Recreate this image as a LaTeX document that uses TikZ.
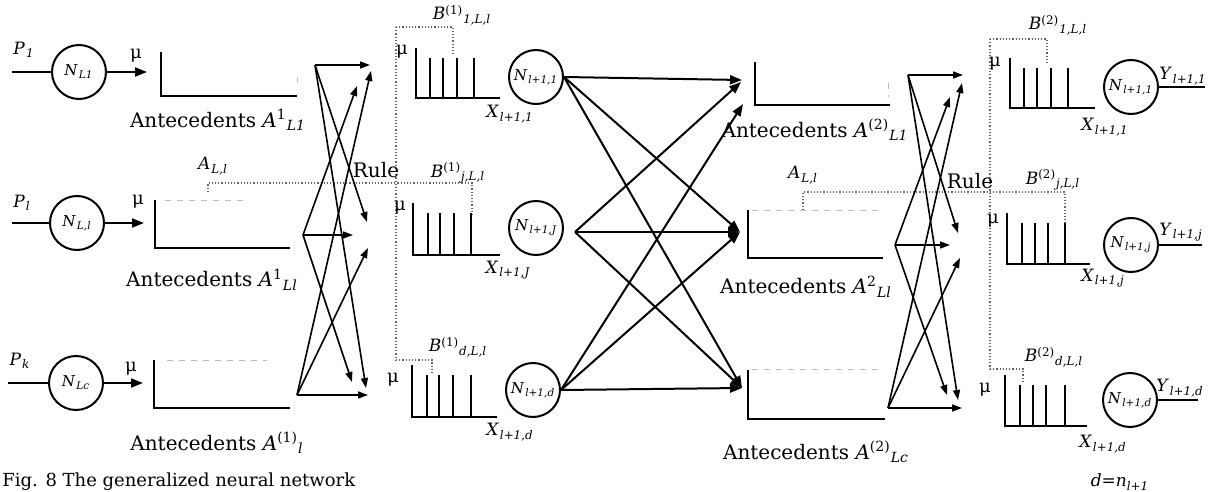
\documentclass[tikz,border=0pt]{standalone}
\usepackage{fontspec}
\setmainfont{DejaVu Serif}
\usetikzlibrary{arrows.meta}
\newcommand{\lb}[3]{\textit{#1}\textsuperscript{#2}\textsubscript{\itshape #3}}
\begin{document}
\begin{tikzpicture}[x=0.5pt,y=-0.5pt,
  neuron/.style={circle,draw,line width=1pt,minimum size=27pt,inner sep=0pt,font=\fontsize{7.5}{8}\selectfont},
  ln/.style={line width=1pt},
  arr/.style={line width=1pt,-{Triangle[length=6pt,width=4.5pt]}},
  xarr/.style={line width=0.8pt,-{Triangle[length=5pt,width=3.5pt]}},
  dots/.style={densely dotted,line width=0.6pt,black!60},
  faint/.style={dashed,line width=0.5pt,black!25},
  txt/.style={inner sep=0pt,font=\fontsize{10}{12}\selectfont},
  sym/.style={inner sep=0pt,font=\fontsize{8.5}{10}\selectfont},
  mu/.style={inner sep=0pt,font=\fontsize{9}{10}\selectfont}]
\useasboundingbox (0,0) rectangle (1215,492);

% ---------- input neurons ----------
\node[neuron] (n1) at (79,72) {\lb{N}{}{L1}};
\node[neuron] (n2) at (77,223) {\lb{N}{}{L,l}};
\node[neuron] (n3) at (76,383) {\lb{N}{}{Lc}};
\coordinate (p1) at (12,72);
\coordinate (p2) at (12,223);
\coordinate (p3) at (8,383);
\draw[ln] (p1) -- (n1);
\draw[ln] (p2) -- (n2);
\draw[ln] (p3) -- (n3);
\node[sym] (lp1) at (24,50) {\lb{P}{}{1}};
\node[sym] (lp2) at (22,203) {\lb{P}{}{l}};
\node[sym] (lp3) at (20,361) {\lb{P}{}{k}};
\coordinate (q1) at (147,72);
\coordinate (q2) at (144,223);
\coordinate (q3) at (143,383);
\draw[arr] (n1) -- (q1);
\draw[arr] (n2) -- (q2);
\draw[arr] (n3) -- (q3);
\node[mu] (mu1) at (136,56) {μ};
\node[mu] (mu2) at (138,202) {μ};
\node[mu] (mu3) at (131,369) {μ};

% ---------- antecedent boxes layer 1 ----------
\draw[ln] (161,52) -- (161,96) -- (297,96);
\draw[faint] (297,77) -- (297,84);
\draw[ln] (155,200) -- (155,248) -- (290,248);
\draw[faint] (165,200) -- (245,200);
\draw[ln] (154,360) -- (154,408) -- (290,408);
\draw[faint] (167,360) -- (267,360);
\node[txt] (ant1) at (218,120) {Antecedents \lb{A}{1}{L1}};
\node[txt] (ant2) at (212,280) {Antecedents \lb{A}{1}{Ll}};
\node[txt] (ant3) at (217,443) {Antecedents \lb{A}{(1)}{l}};
\node[sym] (all1) at (213,166) {\lb{A}{}{L,l}};

% ---------- dotted rule brackets layer 1 ----------
\draw[dots] (208,192) -- (208,183) -- (472,183) -- (472,217);
\draw[dots] (396,27) -- (396,360);
\draw[dots] (396,27) -- (453,27) -- (453,55);
\draw[dots] (396,360) -- (432,360) -- (432,373);
\node[txt] (rule1) at (376,170) {Rule};

% ---------- crossing arrows layer 1 ----------
\coordinate (ua) at (315,65);
\coordinate (ub) at (303,235);
\coordinate (uc) at (297,395);
\coordinate (ta1) at (370,65);
\coordinate (tb1) at (357,86);
\coordinate (tc1) at (371,71);
\coordinate (ta2) at (367,222);
\coordinate (tb2) at (353,235);
\coordinate (tc2) at (368,248);
\coordinate (ta3) at (366,388);
\coordinate (tb3) at (352,382);
\coordinate (tc3) at (368,395);
\draw[xarr] (ua) -- (ta1);
\draw[xarr] (ua) -- (ta2);
\draw[xarr] (ua) -- (ta3);
\draw[xarr] (ub) -- (tb1);
\draw[xarr] (ub) -- (tb2);
\draw[xarr] (ub) -- (tb3);
\draw[xarr] (uc) -- (tc1);
\draw[xarr] (uc) -- (tc2);
\draw[xarr] (uc) -- (tc3);

% ---------- consequents layer 1 ----------
\draw[ln] (416,48) -- (416,98) -- (500,98);
\foreach \x in {430,443,457,474} \draw[ln] (\x,58) -- (\x,98);
\draw[ln] (413,203) -- (413,255) -- (500,255);
\foreach \x in {428,440,454,471} \draw[ln] (\x,213) -- (\x,255);
\draw[ln] (412,365) -- (412,417) -- (497,417);
\foreach \x in {427,439,453,471} \draw[ln] (\x,375) -- (\x,417);
\node[mu] (mu4) at (402,52) {μ};
\node[mu] (mu5) at (400,208) {μ};
\node[mu] (mu6) at (393,380) {μ};
\node[sym] (b11) at (462,15) {\lb{B}{(1)}{1,L,l}};
\node[sym] (b1j) at (458,173) {\lb{B}{(1)}{j,L,l}};
\node[sym] (b1d) at (458,347) {\lb{B}{(1)}{d,L,l}};
\node[sym] (x11) at (510,114) {\lb{X}{}{l+1,1}};
\node[sym] (x1j) at (508,270) {\lb{X}{}{l+1,J}};
\node[sym] (x1d) at (510,432) {\lb{X}{}{l+1,d}};

% ---------- hidden neurons ----------
\node[neuron] (m1) at (536,77) {\lb{N}{}{l+1,1}};
\node[neuron] (mj) at (536,228) {\lb{N}{}{l+1,J}};
\node[neuron] (md) at (533,390) {\lb{N}{}{l+1,d}};

% ---------- full connection ----------
\coordinate (vb) at (575,232);
\coordinate (s1a) at (742,80);
\coordinate (s1b) at (741,82);
\coordinate (s1c) at (743,104);
\coordinate (s2) at (740,232);
\coordinate (s3) at (742,388);
\draw[arr] (m1.east) -- (s1a);
\draw[arr] (m1.east) -- (s2);
\draw[arr] (m1.east) -- (s3);
\draw[arr] (vb) -- (s1b);
\draw[arr] (vb) -- (s2);
\draw[arr] (vb) -- (s3);
\draw[arr] (md.east) -- (s1c);
\draw[arr] (md.east) -- (s2);
\draw[arr] (md.east) -- (s3);

% ---------- antecedent boxes layer 2 ----------
\draw[ln] (755,62) -- (755,105) -- (890,105);
\draw[faint] (888,83) -- (888,97);
\draw[ln] (748,210) -- (748,258) -- (883,258);
\draw[faint] (752,210) -- (880,210);
\draw[ln] (748,370) -- (748,419) -- (885,419);
\draw[faint] (752,369) -- (880,369);
\node[txt] (ant4) at (815,130) {Antecedents \lb{A}{(2)}{L1}};
\node[txt] (ant5) at (806,287) {Antecedents \lb{A}{2}{Ll}};
\node[txt] (ant6) at (816,452) {Antecedents \lb{A}{(2)}{Lc}};
\node[sym] (all2) at (803,175) {\lb{A}{}{L,l}};

% ---------- dotted rule brackets layer 2 ----------
\draw[dots] (803,210) -- (803,192) -- (1065,192) -- (1065,223);
\draw[dots] (990,39) -- (990,369);
\draw[dots] (990,39) -- (1047,39) -- (1047,63);
\draw[dots] (990,369) -- (1023,369) -- (1023,382);
\node[txt] (rule2) at (970,181) {Rule};

% ---------- crossing arrows layer 2 ----------
\coordinate (wa) at (908,75);
\coordinate (wb) at (895,245);
\coordinate (wc) at (888,408);
\coordinate (ra1) at (963,75);
\coordinate (rb1) at (950,97);
\coordinate (rc1) at (962,83);
\coordinate (ra2) at (958,233);
\coordinate (rb2) at (950,245);
\coordinate (rc2) at (960,258);
\coordinate (ra3) at (958,400);
\coordinate (rb3) at (947,395);
\coordinate (rc3) at (962,408);
\draw[xarr] (wa) -- (ra1);
\draw[xarr] (wa) -- (ra2);
\draw[xarr] (wa) -- (ra3);
\draw[xarr] (wb) -- (rb1);
\draw[xarr] (wb) -- (rb2);
\draw[xarr] (wb) -- (rb3);
\draw[xarr] (wc) -- (rc1);
\draw[xarr] (wc) -- (rc2);
\draw[xarr] (wc) -- (rc3);

% ---------- consequents layer 2 ----------
\draw[ln] (1010,58) -- (1010,108) -- (1095,108);
\foreach \x in {1024,1037,1051,1068} \draw[ln] (\x,68) -- (\x,108);
\draw[ln] (1007,213) -- (1007,264) -- (1090,264);
\foreach \x in {1022,1035,1048,1065} \draw[ln] (\x,223) -- (\x,264);
\draw[ln] (1005,375) -- (1005,426) -- (1087,426);
\foreach \x in {1020,1033,1046,1065} \draw[ln] (\x,385) -- (\x,426);
\node[mu] (mu7) at (995,64) {μ};
\node[mu] (mu8) at (993,221) {μ};
\node[mu] (mu9) at (985,390) {μ};
\node[sym] (b21) at (1058,25) {\lb{B}{(2)}{1,L,l}};
\node[sym] (b2j) at (1053,180) {\lb{B}{(2)}{j,L,l}};
\node[sym] (b2d) at (1054,357) {\lb{B}{(2)}{d,L,l}};
\node[sym] (x21) at (1105,127) {\lb{X}{}{l+1,1}};
\node[sym] (x2j) at (1103,278) {\lb{X}{}{l+1,j}};
\node[sym] (x2d) at (1103,444) {\lb{X}{}{l+1,d}};

% ---------- output neurons ----------
\node[neuron] (o1) at (1131,87) {\lb{N}{}{l+1,1}};
\node[neuron] (oj) at (1131,245) {\lb{N}{}{l+1,j}};
\node[neuron] (od) at (1130,400) {\lb{N}{}{l+1,d}};
\coordinate (y1) at (1205,87);
\coordinate (y2) at (1202,245);
\coordinate (y3) at (1198,400);
\draw[ln] (o1.east) -- (y1);
\draw[ln] (oj.east) -- (y2);
\draw[ln] (od.east) -- (y3);
\node[sym] (ly1) at (1183,76) {\lb{Y}{}{l+1,1}};
\node[sym] (ly2) at (1181,232) {\lb{Y}{}{l+1,j}};
\node[sym] (ly3) at (1180,388) {\lb{Y}{}{l+1,d}};
\node[sym] (dn) at (1120,482) {\textit{d}=\textit{n}\textsubscript{\itshape l+1}};

% ---------- caption ----------
\node[anchor=base west,inner sep=0pt,font=\fontsize{9}{10}\selectfont] (cap) at (2,486) {Fig. 8 The generalized neural network};
\end{tikzpicture}
\end{document}
